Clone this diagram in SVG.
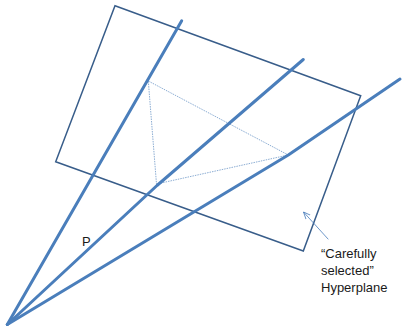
<svg xmlns="http://www.w3.org/2000/svg" width="403" height="328" viewBox="0 0 403 328">
<style>
.ray{stroke:#4a7ebb;stroke-width:3;fill:none;stroke-linecap:round;stroke-linejoin:round}
.plane{stroke:#385d8a;stroke-width:1.5;fill:none}
.tri{stroke:#6f98c8;stroke-width:0.8;stroke-dasharray:1.5 1;fill:none}
.lbl{font-family:"Liberation Sans",Arial,sans-serif;font-size:13px;fill:#1a1a1a}
</style>
<defs>
<marker id="ah" markerWidth="8" markerHeight="8" refX="7" refY="4" orient="auto" markerUnits="userSpaceOnUse">
<path d="M0,1 L7,4 L0,7" fill="none" stroke="#4a7ebb" stroke-width="0.8"/>
</marker>
</defs>
<g id="hyperplane">
<polygon class="plane" points="115,5.7 360.7,95.7 303.3,251 55.7,161.7"/>
</g>
<g id="triangle">
<polygon class="tri" points="148.3,81 288.3,155 156.5,184"/>
</g>
<g id="connectors">
<polyline class="ray" points="7.3,324.5 181.7,20.7"/>
<polyline class="ray" points="7.3,324.5 157,185.5 303.3,59.5"/>
<polyline class="ray" points="7.3,324.5 288.3,155 400,79"/>
<line x1="328.3" y1="239.3" x2="303.5" y2="212" stroke="#4a7ebb" stroke-width="0.8" marker-end="url(#ah)"/>
</g>
<g id="label-p">
<text class="lbl" x="82" y="246" font-size="12">P</text>
</g>
<g id="label-hyperplane">
<text class="lbl" x="321" y="258">“Carefully</text>
<text class="lbl" x="321" y="275">selected”</text>
<text class="lbl" x="321" y="292">Hyperplane</text>
</g>
</svg>
